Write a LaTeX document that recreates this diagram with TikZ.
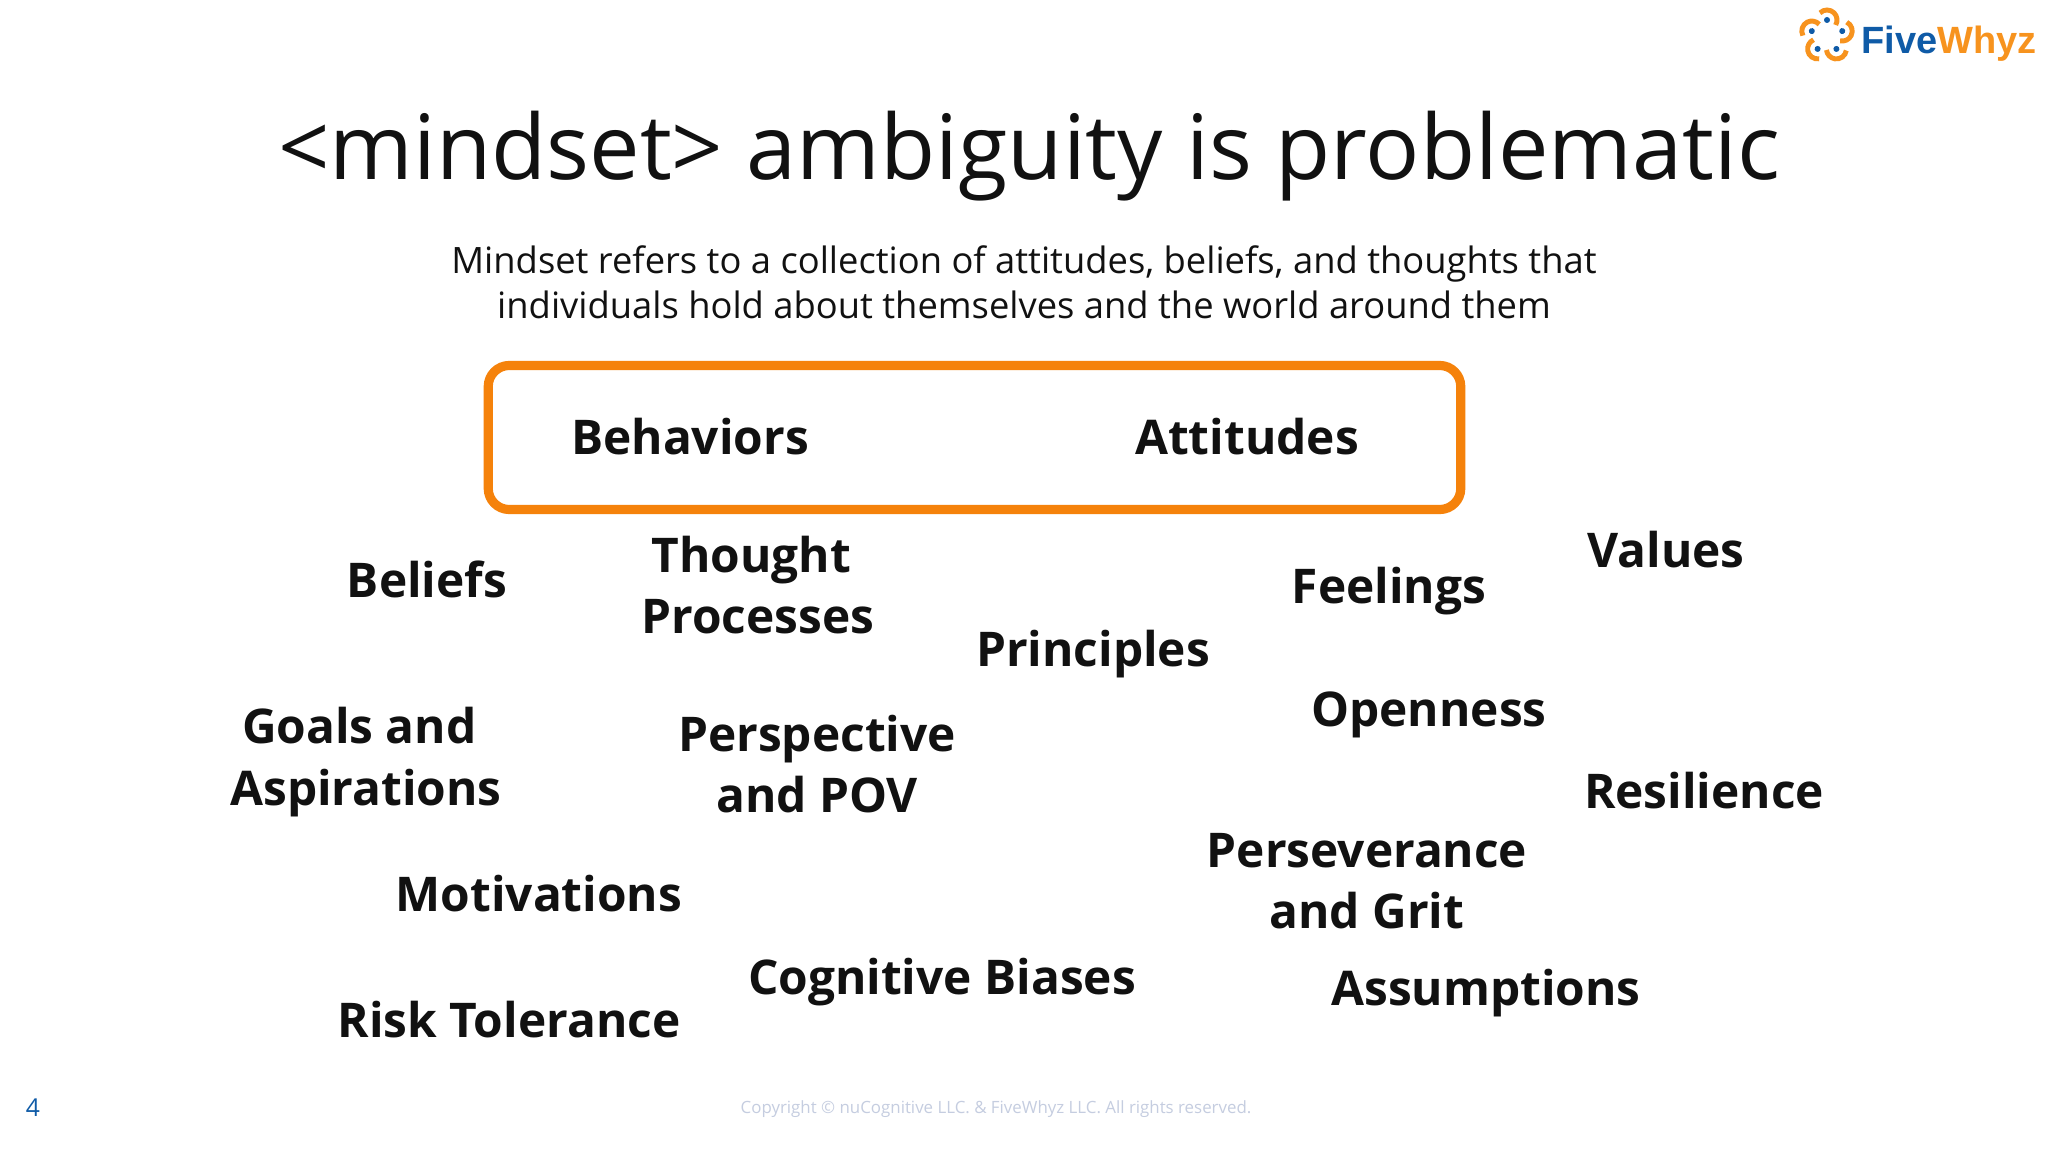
\documentclass[tikz,border=0pt]{standalone}
\usepackage{fontspec}
\setmainfont{Open Sans}
\newfontfamily\logofont{Liberation Sans}
\definecolor{fworange}{HTML}{F5820B}
\definecolor{fwlogo}{HTML}{F7931E}
\definecolor{fwblue}{HTML}{0F5BA7}
\definecolor{fwgrey}{HTML}{C5CDE0}
\definecolor{inktext}{HTML}{111111}
\tikzset{
  px/.style={x=0.01cm,y=-0.01cm},
  term/.style={font=\fontsize{13.6}{17.4}\selectfont\bfseries,text=inktext,align=center,inner sep=0pt},
}
\newcommand{\trail}{\hspace*{0.28em}}
\begin{document}
\begin{tikzpicture}[px]
\useasboundingbox (0,0) rectangle (2048,1152);
\fill[white] (0,0) rectangle (2048,1152);
% title and subtitle
\node[inner sep=0pt,text=inktext,font=\fontsize{25.6}{30}\selectfont] (title) at (1029,156) {<mindset> ambiguity is problematic};
\node[inner sep=0pt,text=inktext,align=center,font=\fontsize{10.33}{12.75}\selectfont] (subtitle) at (1024,282) {Mindset refers to a collection of attitudes, beliefs, and thoughts that\\individuals hold about themselves and the world around them};
% box
\node[draw=fworange,line width=2.6pt,rounded corners=6pt,minimum width=9.72cm,minimum height=1.44cm,inner sep=0pt] (box) at (974.5,437.5) {};
\node[term] (behaviors) at (690,437) {Behaviors};
\node[term] (attitudes) at (1247,437) {Attitudes};
% terms
\node[term] (beliefs) at (427,579) {Beliefs};
\node[term] (thought) at (758,585) {Thought\trail\\Processes};
\node[term] (principles) at (1093,654) {Principles};
\node[term] (feelings) at (1389,591) {Feelings};
\node[term] (values) at (1666,550) {Values};
\node[term] (goals) at (366,762) {Goals and\trail\\Aspirations};
\node[term] (perspective) at (817,764) {Perspective\\and POV};
\node[term] (openness) at (1429,715) {Openness};
\node[term] (resilience) at (1704,791) {Resilience};
\node[term] (motivations) at (539,894) {Motivations};
\node[term] (perseverance) at (1367,881) {Perseverance\\and Grit};
\node[term] (biases) at (942,982) {Cognitive Biases};
\node[term] (assumptions) at (1486,993) {Assumptions};
\node[term] (risk) at (509,1020) {Risk Tolerance};
% footer
\node[inner sep=0pt,text=fwblue,font=\fontsize{7}{8}\selectfont] (pagenum) at (33,1108) {4};
\node[inner sep=0pt,text=fwgrey,font=\fontsize{4.8}{6}\selectfont] (copyright) at (996,1109) {Copyright © nuCognitive LLC. \& FiveWhyz LLC. All rights reserved.};
% logo
\begin{scope}[shift={(1827,36)},x=0.01cm,y=0.01cm]
  \foreach \a in {0,72,144,216,288}{
    \begin{scope}[rotate=\a]
      \draw[fwlogo,line width=1.4pt] (0,16) ++(135:10) arc[start angle=135,end angle=-30,radius=10];
      \fill[fwblue] (0,16) circle[radius=3];
    \end{scope}
  }
\end{scope}
\node[anchor=west,inner sep=0pt,font=\logofont\fontsize{10.8}{13}\selectfont\bfseries] (logotext) at (1861,44) {\textcolor{fwblue}{Five}\textcolor{fwlogo}{Whyz}};
\end{tikzpicture}
\end{document}
